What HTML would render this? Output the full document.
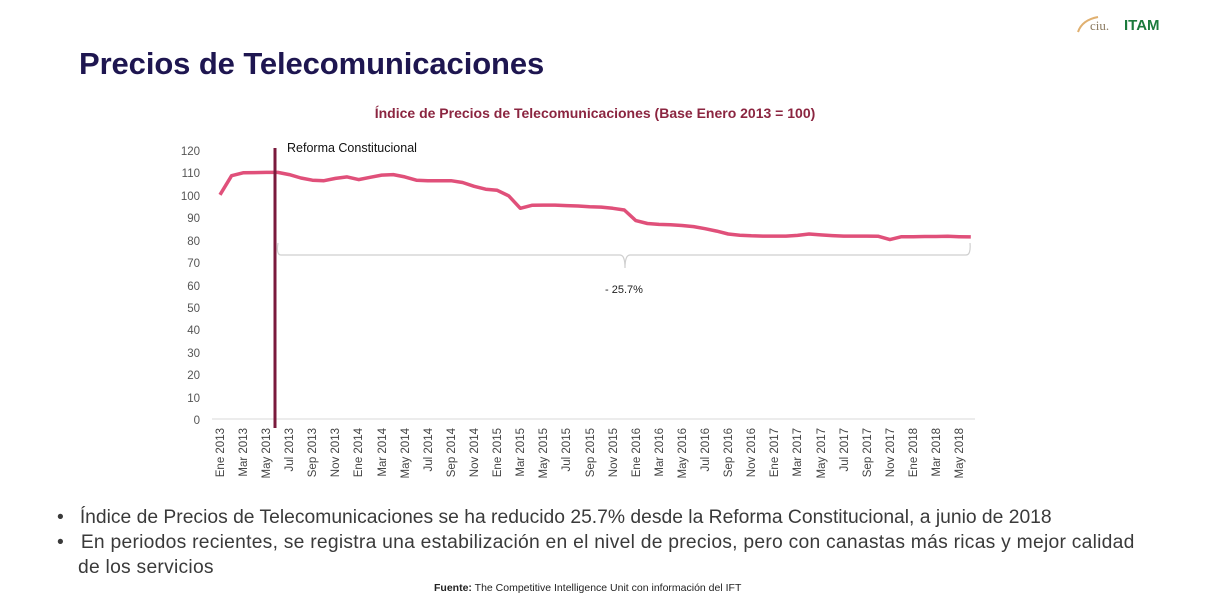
<!DOCTYPE html>
<html><head><meta charset="utf-8"><style>
body{margin:0;width:1205px;height:615px;background:#fff;overflow:hidden;font-family:"Liberation Sans",sans-serif;position:relative}
h1{position:absolute;left:79px;top:46px;margin:0;font-size:31px;font-weight:bold;color:#1e1650;letter-spacing:-0.1px}
.b{position:absolute;left:57px;font-size:19.3px;color:#3a3a3a;letter-spacing:0.25px;white-space:nowrap}
</style></head><body>
<h1>Precios de Telecomunicaciones</h1>
<div style="position:absolute;left:1090px;top:18px;font-size:13px;color:#8a7a60;font-family:'Liberation Serif',serif">ciu.</div>
<div style="position:absolute;left:1124px;top:17px;font-size:15px;font-weight:bold;color:#1b7a3c">ITAM</div>
<svg width="1205" height="615" style="position:absolute;left:0;top:0" font-family="Liberation Sans, sans-serif">
<text x="595" y="118" text-anchor="middle" font-size="14" font-weight="bold" fill="#8b2540">Índice de Precios de Telecomunicaciones (Base Enero 2013 = 100)</text>
<g font-size="11.5" fill="#555" text-anchor="end">
<text x="200" y="155">120</text><text x="200" y="177">110</text><text x="200" y="200">100</text><text x="200" y="222">90</text><text x="200" y="245">80</text><text x="200" y="267">70</text><text x="200" y="290">60</text><text x="200" y="312">50</text><text x="200" y="334">40</text><text x="200" y="357">30</text><text x="200" y="379">20</text><text x="200" y="402">10</text><text x="200" y="424">0</text>
</g>
<line x1="212" y1="419" x2="975" y2="419" stroke="#d8d8d8" stroke-width="1"/>
<path d="M278,243 Q276,255 281,255 L620,255 Q625,255 625,268 Q625,255 630,255 L966,255 Q971,255 970,243" fill="none" stroke="#cfcfcf" stroke-width="1.2"/>
<text x="605" y="293" font-size="11" fill="#222">- 25.7%</text>
<polyline fill="none" stroke="#e0507a" stroke-width="3.5" stroke-linejoin="round" points="220,194.8 231.6,175.7 243.1,172.8 254.7,172.6 266.2,172.4 277.8,172.4 289.3,174.6 300.9,178 312.4,180.2 324,180.7 335.5,178.4 347.1,176.9 358.6,179.6 370.2,177.3 381.7,175.1 393.3,174.6 404.8,176.9 416.4,180.2 427.9,180.7 439.5,180.7 451,180.7 462.6,182.5 474.1,186.3 485.7,189.2 497.2,190.3 508.8,195.9 520.3,208.3 531.9,205.3 543.4,205.1 555,205.1 566.5,205.6 578.1,206 589.6,206.7 601.2,207.1 612.7,208.3 624.3,210 635.8,220.6 647.4,223.5 658.9,224.4 670.5,224.8 682,225.5 693.6,226.6 705.1,228.7 716.7,231.1 728.2,234 739.8,235.2 751.3,235.8 762.9,236.1 774.4,236.1 786,236.1 797.5,235.4 809.1,234 820.6,234.9 832.2,235.6 843.7,236.1 855.3,236.1 866.8,236.1 878.4,236.3 889.9,239.6 901.5,236.7 913,236.7 924.6,236.5 936.1,236.5 947.7,236.3 959.2,236.7 970.8,236.9"/>
<line x1="275" y1="148" x2="275" y2="428" stroke="#7a1a3c" stroke-width="3"/>
<text x="287" y="152" font-size="12.5" fill="#111">Reforma Constitucional</text>
<g font-size="11.5" fill="#444" text-anchor="end">
<text transform="translate(224,428) rotate(-90)">Ene 2013</text>
<text transform="translate(247,428) rotate(-90)">Mar 2013</text>
<text transform="translate(270,428) rotate(-90)">May 2013</text>
<text transform="translate(293,428) rotate(-90)">Jul 2013</text>
<text transform="translate(316,428) rotate(-90)">Sep 2013</text>
<text transform="translate(339,428) rotate(-90)">Nov 2013</text>
<text transform="translate(362,428) rotate(-90)">Ene 2014</text>
<text transform="translate(386,428) rotate(-90)">Mar 2014</text>
<text transform="translate(409,428) rotate(-90)">May 2014</text>
<text transform="translate(432,428) rotate(-90)">Jul 2014</text>
<text transform="translate(455,428) rotate(-90)">Sep 2014</text>
<text transform="translate(478,428) rotate(-90)">Nov 2014</text>
<text transform="translate(501,428) rotate(-90)">Ene 2015</text>
<text transform="translate(524,428) rotate(-90)">Mar 2015</text>
<text transform="translate(547,428) rotate(-90)">May 2015</text>
<text transform="translate(570,428) rotate(-90)">Jul 2015</text>
<text transform="translate(594,428) rotate(-90)">Sep 2015</text>
<text transform="translate(617,428) rotate(-90)">Nov 2015</text>
<text transform="translate(640,428) rotate(-90)">Ene 2016</text>
<text transform="translate(663,428) rotate(-90)">Mar 2016</text>
<text transform="translate(686,428) rotate(-90)">May 2016</text>
<text transform="translate(709,428) rotate(-90)">Jul 2016</text>
<text transform="translate(732,428) rotate(-90)">Sep 2016</text>
<text transform="translate(755,428) rotate(-90)">Nov 2016</text>
<text transform="translate(778,428) rotate(-90)">Ene 2017</text>
<text transform="translate(801,428) rotate(-90)">Mar 2017</text>
<text transform="translate(825,428) rotate(-90)">May 2017</text>
<text transform="translate(848,428) rotate(-90)">Jul 2017</text>
<text transform="translate(871,428) rotate(-90)">Sep 2017</text>
<text transform="translate(894,428) rotate(-90)">Nov 2017</text>
<text transform="translate(917,428) rotate(-90)">Ene 2018</text>
<text transform="translate(940,428) rotate(-90)">Mar 2018</text>
<text transform="translate(963,428) rotate(-90)">May 2018</text>
</g>
<path d="M1078,32 Q1082,20 1098,17" fill="none" stroke="#e0b070" stroke-width="2"/>
</svg>
<div class="b" style="top:507px;letter-spacing:0">•&nbsp;&nbsp; Índice de Precios de Telecomunicaciones se ha reducido 25.7% desde la Reforma Constitucional, a junio de 2018</div>
<div class="b" style="top:532px">•&nbsp;&nbsp; En periodos recientes, se registra una estabilización en el nivel de precios, pero con canastas más ricas y mejor calidad</div>
<div class="b" style="top:557px;left:78px">de los servicios</div>
<div style="position:absolute;left:434px;top:582px;font-size:10.5px;color:#222"><b>Fuente:</b> The Competitive Intelligence Unit con información del IFT</div>
</body></html>
